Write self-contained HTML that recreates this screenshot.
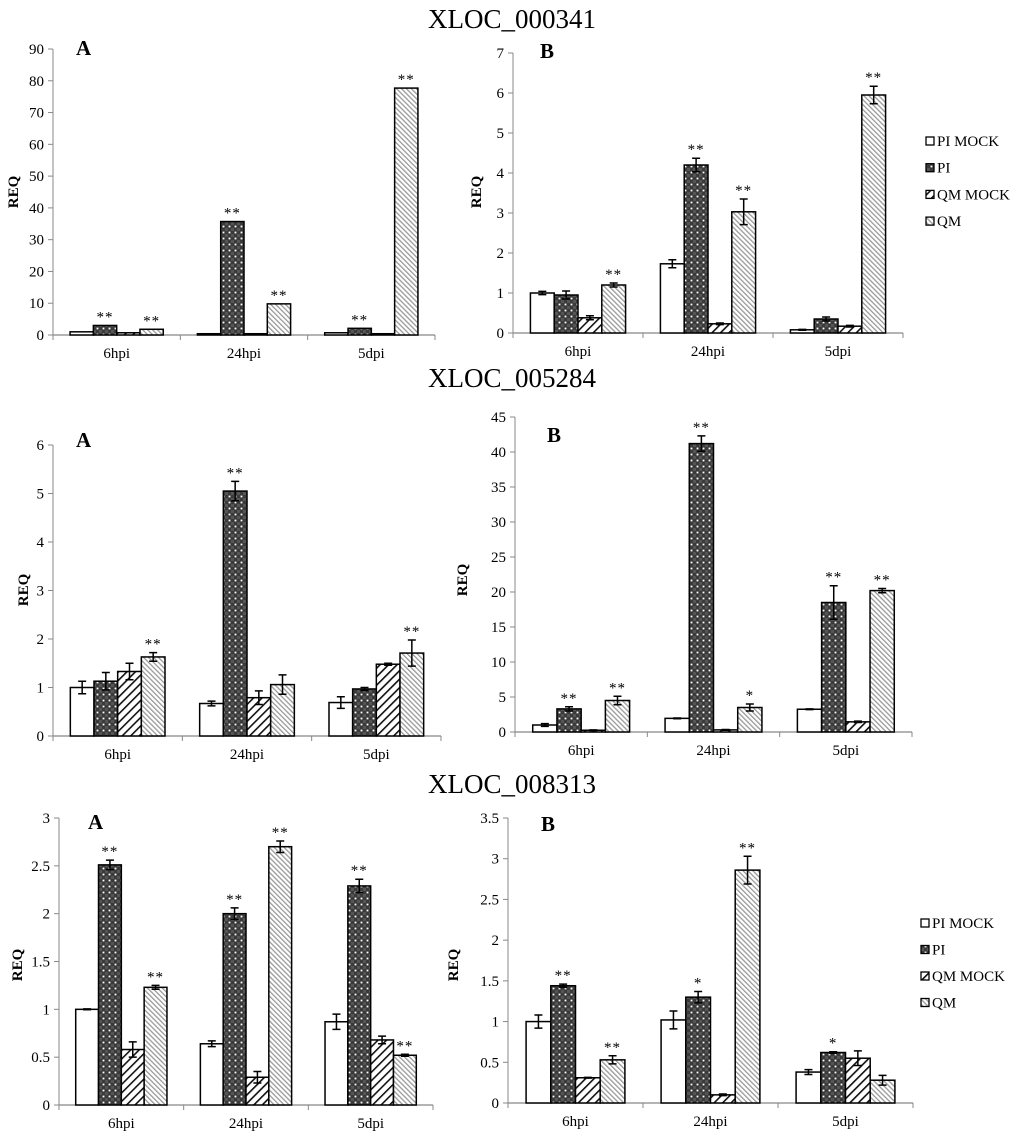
<!DOCTYPE html>
<html><head><meta charset="utf-8">
<style>
html,body{margin:0;padding:0;background:#fff;}
svg{display:block;font-family:"Liberation Serif",serif;}
</style></head>
<body>
<svg id="fig" width="1024" height="1137" viewBox="0 0 1024 1137" xmlns="http://www.w3.org/2000/svg">
<defs>
<pattern id="patPI" patternUnits="userSpaceOnUse" width="6" height="6">
<rect width="6" height="6" fill="#555"/>
<rect x="0" y="0" width="3" height="3" fill="#3a3a3a"/>
<rect x="3" y="3" width="3" height="3" fill="#3a3a3a"/>
<circle cx="1.5" cy="4.5" r="0.9" fill="#fff"/>
</pattern>
<pattern id="patQMM" patternUnits="userSpaceOnUse" width="6" height="6" patternTransform="rotate(45)">
<rect width="6" height="6" fill="#fff"/>
<rect x="0" y="0" width="1.6" height="6" fill="#111"/>
</pattern>
<pattern id="patQM" patternUnits="userSpaceOnUse" width="3.5" height="3.5" patternTransform="rotate(-45)">
<rect width="3.5" height="3.5" fill="#fff"/>
<rect x="0" y="0" width="1.3" height="3.5" fill="#999"/>
</pattern>
</defs>
<text x="512" y="28" font-size="27" text-anchor="middle">XLOC_000341</text>
<text x="512" y="387" font-size="27" text-anchor="middle">XLOC_005284</text>
<text x="512" y="793" font-size="27" text-anchor="middle">XLOC_008313</text>
</svg>
<script>
const categories = ["6hpi", "24hpi", "5dpi"];
const seriesNames = ["PI MOCK", "PI", "QM MOCK", "QM"];

const a1Values = [[1.0, 0.4, 0.7], [3.0, 35.7, 2.1], [0.7, 0.4, 0.4], [1.8, 9.8, 77.7]];
const a1Errors = [[0, 0, 0], [0, 0, 0], [0, 0, 0], [0, 0, 0]];
const a1Stars = [["", "", ""], ["**", "**", "**"], ["", "", ""], ["**", "**", "**"]];
const a1Ticks = [0, 10, 20, 30, 40, 50, 60, 70, 80, 90];

const b1Values = [[1.0, 1.73, 0.08], [0.95, 4.2, 0.35], [0.38, 0.23, 0.17], [1.2, 3.03, 5.95]];
const b1Errors = [[0.04, 0.1, 0.01], [0.1, 0.17, 0.05], [0.05, 0.02, 0.02], [0.05, 0.32, 0.22]];
const b1Stars = [["", "", ""], ["", "**", ""], ["", "", ""], ["**", "**", "**"]];
const b1Ticks = [0, 1, 2, 3, 4, 5, 6, 7];

const a2Values = [[1.0, 0.67, 0.69], [1.13, 5.05, 0.97], [1.33, 0.79, 1.48], [1.63, 1.06, 1.71]];
const a2Errors = [[0.13, 0.05, 0.12], [0.18, 0.2, 0.03], [0.17, 0.14, 0.02], [0.09, 0.2, 0.27]];
const a2Stars = [["", "", ""], ["", "**", ""], ["", "", ""], ["**", "", "**"]];
const a2Ticks = [0, 1, 2, 3, 4, 5, 6];

const b2Values = [[1.0, 1.95, 3.25], [3.3, 41.2, 18.5], [0.25, 0.3, 1.45], [4.5, 3.5, 20.2]];
const b2Errors = [[0.2, 0.05, 0.05], [0.3, 1.1, 2.4], [0.05, 0.05, 0.1], [0.6, 0.5, 0.3]];
const b2Stars = [["", "", ""], ["**", "**", "**"], ["", "", ""], ["**", "*", "**"]];
const b2Ticks = [0, 5, 10, 15, 20, 25, 30, 35, 40, 45];

const a3Values = [[1.0, 0.64, 0.87], [2.51, 2.0, 2.29], [0.58, 0.29, 0.68], [1.23, 2.7, 0.52]];
const a3Errors = [[0.005, 0.03, 0.08], [0.05, 0.06, 0.07], [0.08, 0.06, 0.04], [0.02, 0.06, 0.01]];
const a3Stars = [["", "", ""], ["**", "**", "**"], ["", "", ""], ["**", "**", "**"]];
const a3Ticks = [0, 0.5, 1, 1.5, 2, 2.5, 3];

const b3Values = [[1.0, 1.02, 0.38], [1.44, 1.3, 0.62], [0.31, 0.1, 0.55], [0.53, 2.86, 0.28]];
const b3Errors = [[0.08, 0.11, 0.03], [0.02, 0.07, 0.01], [0.005, 0.01, 0.09], [0.05, 0.17, 0.06]];
const b3Stars = [["", "", ""], ["**", "*", "*"], ["", "", ""], ["**", "**", ""]];
const b3Ticks = [0, 0.5, 1, 1.5, 2, 2.5, 3, 3.5];

const fills = ["#fff", "url(#patPI)", "url(#patQMM)", "url(#patQM)"];
const NS = "http://www.w3.org/2000/svg";
const svg = document.getElementById("fig");

function mk(tag, attrs, parent) {
  const e = document.createElementNS(NS, tag);
  for (const k in attrs) e.setAttribute(k, attrs[k]);
  (parent || svg).appendChild(e);
  return e;
}

function drawChart(cfg) {
  const g = mk("g", {});
  
  
  const max = cfg.ticks[cfg.ticks.length - 1];
  const yScale = v => cfg.y0 - (v / max) * (cfg.y0 - cfg.yTop);
  const catW = (cfg.x1 - cfg.x0) / categories.length;
  const barW = catW * 0.183;
  const xCat = i => cfg.x0 + catW * (i + 0.5);
  const ya = mk("line", {x1: cfg.x0, y1: cfg.yTop, x2: cfg.x0, y2: cfg.y0, stroke: "#888", "stroke-width": 1}, g);
  
  
  cfg.ticks.forEach(t => {
    const y = yScale(t);
    mk("line", {x1: cfg.x0 - 5, y1: y, x2: cfg.x0, y2: y, stroke: "#888"}, g);
    const tl = mk("text", {x: cfg.x0 - 9, y: y + 5, "font-size": 15, "text-anchor": "end"}, g);
    tl.textContent = t;
    
    
  });
  const xa = mk("line", {x1: cfg.x0, y1: cfg.y0, x2: cfg.x1, y2: cfg.y0, stroke: "#888", "stroke-width": 1.2}, g);
  
  
  for (let i = 0; i <= categories.length; i++) {
    const x = cfg.x0 + catW * i;
    mk("line", {x1: x, y1: cfg.y0, x2: x, y2: cfg.y0 + 5, stroke: "#888"}, g);
  }
  categories.forEach((c, i) => {
    const cl = mk("text", {x: xCat(i), y: cfg.y0 + 23, "font-size": 15, "text-anchor": "middle"}, g);
    cl.textContent = c;
    
    
  });
  cfg.values.forEach((ser, s) => {
    ser.forEach((v, i) => {
      const x = xCat(i) - 2 * barW + s * barW;
      const y = yScale(v);
      const r = mk("rect", {x: x, y: y, width: barW, height: Math.max(cfg.y0 - y, 0.5), fill: fills[s], stroke: "#000", "stroke-width": 1.5}, g);
      
      
      const e = cfg.errors[s][i];
      const cx = x + barW / 2;
      let topY = y;
      if (e > 0) {
        const yh = yScale(v + e), yl = yScale(v - e);
        const eb = mk("path", {d: `M${cx},${yh}V${yl}M${cx - 4},${yh}H${cx + 4}M${cx - 4},${yl}H${cx + 4}`, stroke: "#000", "stroke-width": 1.5, fill: "none"}, g);
        
        
        topY = yh;
      }
      const st = cfg.stars[s][i];
      if (st) {
        const t = mk("text", {x: cx, y: topY - 4, "font-size": 15, "text-anchor": "middle", "letter-spacing": 1}, g);
        t.textContent = st;
        
        
      }
    });
  });
  const yt = mk("text", {x: cfg.reqX, y: cfg.reqY, "font-size": 15, "font-weight": "bold", "text-anchor": "middle", transform: `rotate(-90 ${cfg.reqX} ${cfg.reqY})`}, g);
  yt.textContent = "REQ";
  
  
  const pl = mk("text", {x: cfg.lx, y: cfg.ly, "font-size": 21, "font-weight": "bold"}, g);
  pl.textContent = cfg.letter;
  
  
  if (cfg.legend) {
    seriesNames.forEach((n, s) => {
      const y = cfg.legend.y + s * cfg.legend.dy;
      const sw = mk("rect", {x: cfg.legend.x, y: y - 4, width: 8, height: 8, fill: fills[s], stroke: "#000", "stroke-width": 1.3}, g);
      
      
      const lt = mk("text", {x: cfg.legend.x + 11, y: y + 5, "font-size": 15}, g);
      lt.textContent = n;
      
      
    });
  }
}

drawChart({name: "chart-000341-a", values: a1Values, errors: a1Errors, stars: a1Stars, ticks: a1Ticks, x0: 53, x1: 435, y0: 335, yTop: 49, reqX: 18, reqY: 192, letter: "A", lx: 76, ly: 55});
drawChart({name: "chart-000341-b", values: b1Values, errors: b1Errors, stars: b1Stars, ticks: b1Ticks, x0: 513, x1: 903, y0: 333, yTop: 53, reqX: 481, reqY: 192, letter: "B", lx: 540, ly: 58, legend: {x: 926, y: 141, dy: 26.7}});
drawChart({name: "chart-005284-a", values: a2Values, errors: a2Errors, stars: a2Stars, ticks: a2Ticks, x0: 53, x1: 441, y0: 736, yTop: 445, reqX: 28, reqY: 590, letter: "A", lx: 76, ly: 447});
drawChart({name: "chart-005284-b", values: b2Values, errors: b2Errors, stars: b2Stars, ticks: b2Ticks, x0: 515, x1: 912, y0: 732, yTop: 417, reqX: 467, reqY: 580, letter: "B", lx: 547, ly: 442});
drawChart({name: "chart-008313-a", values: a3Values, errors: a3Errors, stars: a3Stars, ticks: a3Ticks, x0: 59, x1: 433, y0: 1105, yTop: 818, reqX: 22, reqY: 965, letter: "A", lx: 88, ly: 829});
drawChart({name: "chart-008313-b", values: b3Values, errors: b3Errors, stars: b3Stars, ticks: b3Ticks, x0: 508, x1: 913, y0: 1103, yTop: 818, reqX: 458, reqY: 965, letter: "B", lx: 541, ly: 831, legend: {x: 921, y: 923, dy: 26.5}});
</script>
</body></html>
